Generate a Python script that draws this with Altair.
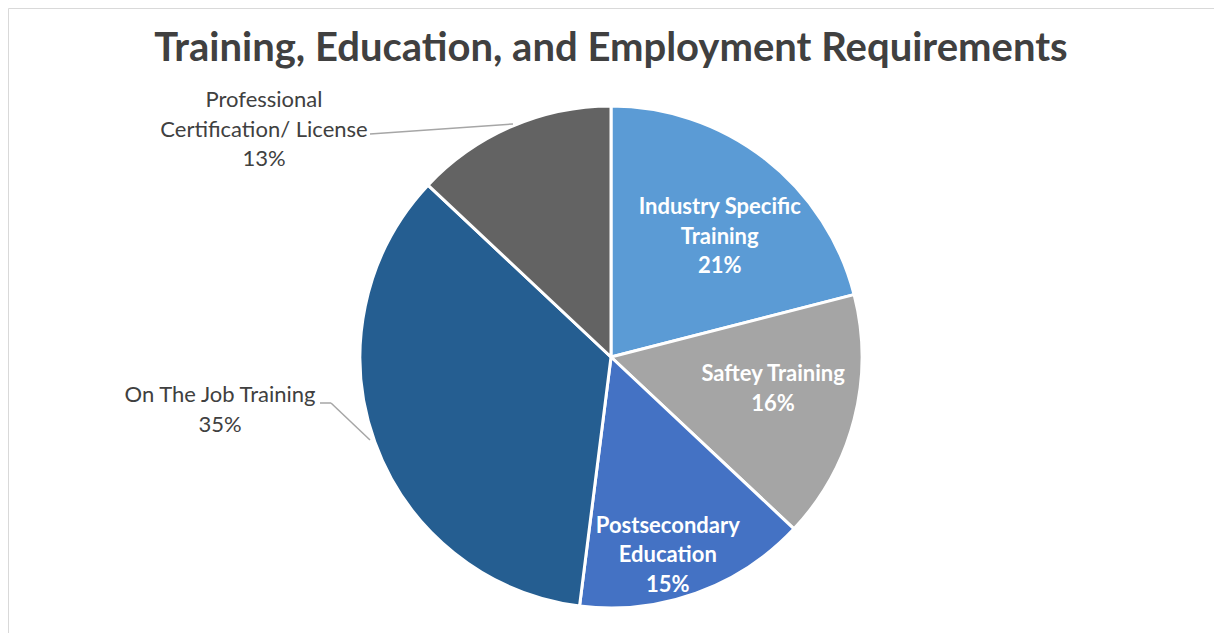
import altair as alt
import pandas as pd

categories = ["Industry Specific Training", "Saftey Training", "Postsecondary Education",
              "On The Job Training", "Professional Certification/ License"]
label_lines = [["Industry Specific", "Training"], ["Saftey Training"], ["Postsecondary", "Education"],
               ["On The Job Training"], ["Professional", "Certification/ License"]]
shares = [21, 16, 15, 35, 13]
colors = ["#5B9BD5", "#A5A5A5", "#4472C4", "#255E91", "#636363"]
inside = [True, True, True, False, False]
# label layout: distance of first line from the pie centre and angular nudge (in % of the pie)
inside_radius = [185, 163, 178, 0, 0]
angle_nudge = [-0.5, -2.33, 0.33, 0, 0]

df = pd.DataFrame({
    "idx": list(range(len(categories))),
    "category": categories,
    "share": shares,
    "label": ["\n".join(l + [f"{s}%"]) for l, s in zip(label_lines, shares)],
    "inside": inside,
    "lr": inside_radius,
    "nudge": angle_nudge,
})
df["inlabel"] = [lab if ins else "" for lab, ins in zip(df["label"], df["inside"])]

W, H = 1206, 625
CX, CY = 603, 349
FONT = "Lato"
FS = 22
LH = 29.5
theta_scale = alt.Scale(domain=[0, 100], range=[0, 6.283185307179586])

pie = alt.Chart(df).mark_arc(outerRadius=251, stroke="white", strokeWidth=3).encode(
    theta=alt.Theta("share:Q", stack=True, scale=theta_scale),
    order=alt.Order("idx:Q"),
    x=alt.value(CX), y=alt.value(CY),
    color=alt.Color("category:N", scale=alt.Scale(domain=categories, range=colors), legend=None),
)

inner_text = alt.Chart(df).transform_window(
    cum="sum(share)", sort=[alt.SortField("idx")], frame=[None, 0]
).transform_calculate(
    mid="datum.cum - datum.share / 2 + datum.nudge"
).mark_text(font=FONT, fontSize=FS, fontWeight="bold", color="white",
            lineBreak="\n", lineHeight=LH, baseline="middle", align="center").encode(
    theta=alt.Theta("mid:Q", stack=False, scale=theta_scale),
    radius=alt.Radius("lr:Q", scale=None),
    x=alt.value(CX), y=alt.value(CY),
    text="inlabel:N",
)

prof = alt.Chart(df).transform_filter(alt.datum.idx == 4).mark_text(
    font=FONT, fontSize=FS, color="#404040", lineBreak="\n", lineHeight=LH,
    baseline="middle", align="center").encode(
    x=alt.value(256), y=alt.value(92), text="label:N")

job = alt.Chart(df).transform_filter(alt.datum.idx == 3).mark_text(
    font=FONT, fontSize=FS, color="#404040", lineBreak="\n", lineHeight=LH,
    baseline="middle", align="center").encode(
    x=alt.value(212), y=alt.value(387), text="label:N")

lead1 = alt.Chart(df).transform_filter(alt.datum.idx == 4).mark_rule(color="#A6A6A6", strokeWidth=1.5).encode(
    x=alt.value(362), y=alt.value(126), x2=alt.value(505), y2=alt.value(116))
lead2 = alt.Chart(df).transform_filter(alt.datum.idx == 3).mark_rule(color="#A6A6A6", strokeWidth=1.5).encode(
    x=alt.value(312), y=alt.value(395), x2=alt.value(323), y2=alt.value(395))
lead3 = alt.Chart(df).transform_filter(alt.datum.idx == 3).mark_rule(color="#A6A6A6", strokeWidth=1.5).encode(
    x=alt.value(323), y=alt.value(395), x2=alt.value(362), y2=alt.value(432))

title = alt.Chart(df).transform_filter(alt.datum.idx == 0).mark_text(
    font=FONT, fontSize=40, fontWeight="bold", color="#404040", align="center", baseline="middle").encode(
    x=alt.value(603), y=alt.value(41), text=alt.value("Training, Education, and Employment Requirements"))

chart = alt.layer(pie, inner_text, prof, job, lead1, lead2, lead3, title).properties(
    width=W, height=H,
    autosize=alt.AutoSizeParams(type="fit", contains="padding"),
    padding=0,
).configure_view(stroke="#D9D9D9", strokeWidth=1)

chart.save("out.html", embed_options={"renderer": "svg", "actions": False})
